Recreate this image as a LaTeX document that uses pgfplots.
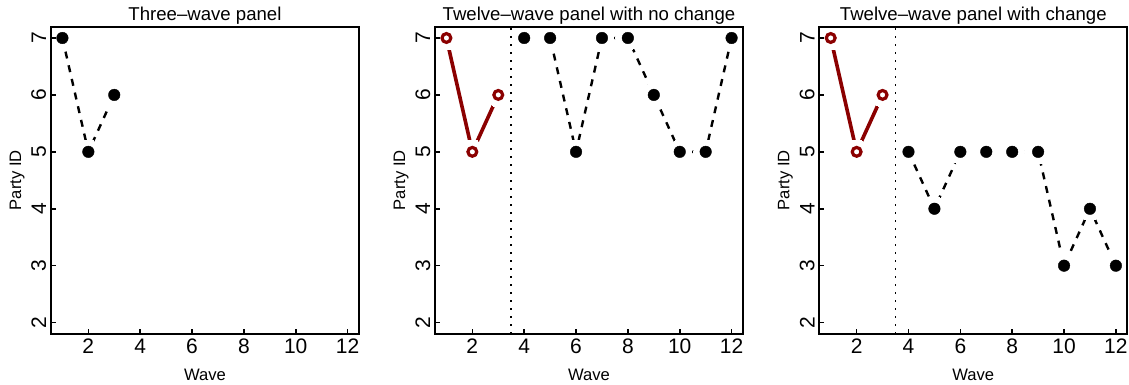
\documentclass[border=0pt]{standalone}
\usepackage{fontspec}
\setmainfont{Liberation Sans}
\usepackage{pgfplots}
\pgfplotsset{compat=1.18}
\definecolor{dred}{RGB}{139,0,0}
\pgfplotsset{
  panel/.style={
    width=154pt, height=153.7pt, scale only axis,
    anchor=south west,
    xmin=0.56, xmax=12.44, ymin=1.8, ymax=7.2,
    xtick={2,4,6,8,10,12}, ytick={2,3,4,5,6,7},
    xtick pos=bottom, ytick pos=left,
    tick align=inside, major tick length=2.5pt,
    every tick/.style={black, line width=0.8pt},
    axis line style={line width=1pt},
    axis on top, clip marker paths=true,
    every axis title shift=0pt,
    /pgf/number format/assume math mode=true,
    ticklabel style={font=\fontsize{10.5}{12}\selectfont},
    xticklabel style={anchor=north, inner sep=0pt, yshift=-2.2pt},
    yticklabel style={rotate=90, anchor=south, inner sep=2.2pt},
    xlabel={Wave}, ylabel={Party ID},
    label style={font=\fontsize{8.3}{10}\selectfont},
    xlabel style={at={(axis description cs:0.5,0)}, anchor=base, yshift=-23.4pt},
    ylabel style={at={(axis description cs:-0.0974,0.5)}, anchor=base, rotate=0},
    title style={at={(axis description cs:0.5,1)}, anchor=base, yshift=3.3pt, font=\fontsize{9.3}{11}\selectfont},
  },
  blk/.style={black, line width=1.2pt, dash pattern=on 3.5pt off 3.5pt},
  redl/.style={dred, line width=1.8pt},
  gap/.style={only marks, mark=*, mark size=6pt, mark options={white, fill=white, draw=white, line width=0pt}},
  bdot/.style={only marks, mark=*, mark size=2.9pt, mark options={black, fill=black, solid, line width=0.2pt}},
  rcirc/.style={only marks, mark=o, mark size=2.2pt, mark options={dred, solid, line width=1.6pt, fill=white}},
  vline/.style={black, line width=0.9pt, dash pattern=on 0.9pt off 3.1pt},
}
\begin{document}
\begin{tikzpicture}
\useasboundingbox (0,0) rectangle (564.5pt,192.5pt);
% Panel 1
\begin{axis}[panel, at={(25.5pt,25.5pt)}, title={Three–wave panel}]
\addplot[blk] coordinates {(1,7) (2,5) (3,6)};
\addplot[gap] coordinates {(1,7) (2,5) (3,6)};
\addplot[bdot] coordinates {(1,7) (2,5) (3,6)};
\end{axis}
% Panel 2
\begin{axis}[panel, at={(217.5pt,25.5pt)}, title={Twelve–wave panel with no change}]
\addplot[redl] coordinates {(1,7) (2,5) (3,6)};
\addplot[blk] coordinates {(4,7) (5,7) (6,5) (7,7) (8,7) (9,6) (10,5) (11,5) (12,7)};
\addplot[gap] coordinates {(1,7) (2,5) (3,6)};
\addplot[gap] coordinates {(4,7) (5,7) (6,5) (7,7) (8,7) (9,6) (10,5) (11,5) (12,7)};
\addplot[rcirc] coordinates {(1,7) (2,5) (3,6)};
\addplot[bdot] coordinates {(4,7) (5,7) (6,5) (7,7) (8,7) (9,6) (10,5) (11,5) (12,7)};
\addplot[vline] coordinates {(3.5,1.8) (3.5,7.2)};
\end{axis}
% Panel 3
\begin{axis}[panel, at={(409.65pt,25.5pt)}, title={Twelve–wave panel with change}]
\addplot[redl] coordinates {(1,7) (2,5) (3,6)};
\addplot[blk] coordinates {(4,5) (5,4) (6,5) (7,5) (8,5) (9,5) (10,3) (11,4) (12,3)};
\addplot[gap] coordinates {(1,7) (2,5) (3,6)};
\addplot[gap] coordinates {(4,5) (5,4) (6,5) (7,5) (8,5) (9,5) (10,3) (11,4) (12,3)};
\addplot[rcirc] coordinates {(1,7) (2,5) (3,6)};
\addplot[bdot] coordinates {(4,5) (5,4) (6,5) (7,5) (8,5) (9,5) (10,3) (11,4) (12,3)};
\addplot[vline] coordinates {(3.5,1.8) (3.5,7.2)};
\end{axis}
\end{tikzpicture}
\end{document}
